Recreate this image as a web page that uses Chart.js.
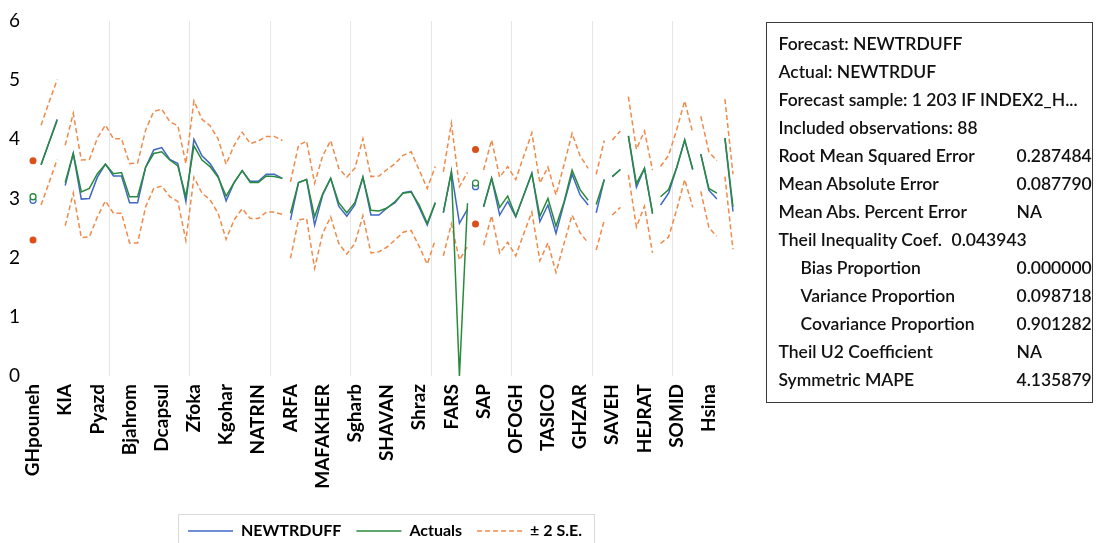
<!DOCTYPE html>
<html>
<head>
<meta charset="utf-8">
<script src="https://cdn.jsdelivr.net/npm/chart.js@4.4.1/dist/chart.umd.min.js"></script>
<style>
  html, body { margin: 0; padding: 0; background: #fff; width: 1097px; height: 543px; overflow: hidden; }
  #wrap { position: absolute; left: 0; top: 0; width: 770px; height: 549px; }
  #stats {
    position: absolute; left: 766px; top: 22px; width: 325px; height: 379px;
    border: 1.5px solid #3a3a3a; font-family: Lato, "Open Sans", sans-serif;
    font-size: 17.5px; font-weight: 600; color: #111;
  }
  #stats .row { position: absolute; white-space: nowrap; line-height: 20px; }
</style>
</head>
<body>
<div id="wrap"><canvas id="c" width="770" height="549"></canvas></div>
<div id="stats"></div>
<script>
// Company names shown on the axis (one every fourth observation)
const companies = ['GHpouneh','KIA','Pyazd','Bjahrom','Dcapsul','Zfoka','Kgohar','NATRIN','ARFA','MAFAKHER',
  'Sgharb','SHAVAN','Shraz','FARS','SAP','OFOGH','TASICO','GHZAR','SAVEH','HEJRAT','SOMID','Hsina'];
const companyObs = [0,4,8,12,16,20,24,28,32,36,40,44,48,52,56,60,64,68,72,76,80,84];

// Forecast NEWTRDUFF
const forecast = [2.97,3.57,3.95,4.34,3.22,3.76,2.99,3.00,3.36,3.58,3.38,3.38,2.93,2.93,3.53,3.82,
  3.86,3.66,3.59,2.95,4.00,3.72,3.59,3.38,2.96,3.27,3.47,3.29,3.29,3.41,3.41,3.34,
  2.64,3.27,3.32,2.55,3.06,3.34,2.87,2.70,2.89,3.36,2.72,2.72,2.84,2.93,3.10,3.12,
  2.85,2.55,2.93,2.76,3.45,2.58,2.82,3.20,2.86,3.34,2.72,2.95,2.69,3.06,3.43,2.61,
  2.89,2.41,2.92,3.41,3.06,2.89,2.76,3.32,3.37,3.49,4.06,3.19,3.51,2.76,2.89,3.09,
  3.52,3.99,3.49,3.75,3.14,2.99,4.02,2.78];

// Actual NEWTRDUF
const actual = [3.03,3.57,3.95,4.32,3.27,3.76,3.11,3.17,3.42,3.58,3.42,3.44,3.03,3.03,3.53,3.76,
  3.79,3.65,3.55,3.03,3.89,3.65,3.54,3.36,3.04,3.27,3.47,3.27,3.27,3.38,3.37,3.34,
  2.75,3.27,3.32,2.69,3.08,3.34,2.93,2.76,2.93,3.36,2.80,2.79,2.84,2.95,3.09,3.11,
  2.89,2.58,2.93,2.76,3.45,0.00,2.92,3.26,2.86,3.34,2.85,3.04,2.70,3.06,3.42,2.70,
  3.00,2.53,2.94,3.48,3.15,2.97,2.90,3.32,3.37,3.49,4.06,3.25,3.51,2.74,3.03,3.15,
  3.52,3.99,3.49,3.75,3.17,3.09,4.02,2.86];

// Forecast + 2 S.E.
const upperBand = [3.64,4.24,4.63,5.01,3.90,4.44,3.65,3.66,4.02,4.24,4.01,4.01,3.59,3.60,4.16,4.47,
  4.51,4.30,4.23,3.59,4.65,4.34,4.23,4.01,3.58,3.90,4.12,3.93,3.97,4.05,4.05,3.98,
  3.28,3.90,3.97,3.26,3.72,3.98,3.51,3.36,3.51,4.01,3.37,3.38,3.49,3.59,3.73,3.79,
  3.48,3.17,3.54,3.45,4.27,3.20,3.44,3.83,3.48,3.99,3.36,3.54,3.32,3.72,4.11,3.26,
  3.53,3.06,3.57,4.10,3.72,3.51,3.41,3.98,3.99,4.14,4.72,3.83,4.14,3.48,3.54,3.73,
  4.16,4.65,4.11,4.39,3.79,3.64,4.68,3.41];

// Forecast - 2 S.E.
const lowerBand = [2.30,2.89,3.27,3.66,2.54,3.09,2.34,2.35,2.69,2.96,2.75,2.75,2.25,2.25,2.86,3.17,
  3.21,3.03,2.95,2.29,3.36,3.09,2.98,2.75,2.31,2.64,2.83,2.66,2.66,2.77,2.77,2.73,
  1.99,2.64,2.66,1.82,2.41,2.69,2.24,2.06,2.24,2.71,2.08,2.10,2.18,2.30,2.43,2.46,
  2.19,1.89,2.30,2.03,2.57,1.96,2.19,2.57,2.21,2.71,2.08,2.26,2.03,2.41,2.77,1.95,
  2.25,1.75,2.24,2.72,2.42,2.25,2.13,2.63,2.72,2.85,3.40,2.52,2.87,2.08,2.24,2.35,
  2.81,3.32,2.85,3.12,2.51,2.36,3.37,2.14];

// Observations where the IF-filtered sample jumps, so the line restarts there
const sampleBreaks = [1,4,32,51,55,56,70,72,74,78,83,86];

// Vertical guide lines and value axis ticks
const gridObs = [9.5,19.5,29.5,39.5,49.5,59.5,69.5,79.5];
const yTicks = [0,1,2,3,4,5,6];

// Forecast evaluation statistics
const statLabels = ['Forecast: NEWTRDUFF','Actual: NEWTRDUF','Forecast sample: 1 203 IF INDEX2_H...',
  'Included observations: 88','Root Mean Squared Error','Mean Absolute Error','Mean Abs. Percent Error',
  'Theil Inequality Coef.','Bias Proportion','Variance Proportion','Covariance Proportion',
  'Theil U2 Coefficient','Symmetric MAPE'];
const statValues = ['','','','','0.287484','0.087790','NA','0.043943','0.000000','0.098718','0.901282','NA','4.135879'];
const indentedRows = [8,9,10];
const inlineValueRows = [7];

// ---- statistics panel ----
const stats = document.getElementById('stats');
statLabels.forEach((name, k) => {
  const top = 10.5 + 28 * k;
  const row = document.createElement('div');
  row.className = 'row';
  row.style.top = top + 'px';
  row.style.left = (indentedRows.includes(k) ? 33.5 : 11.5) + 'px';
  row.textContent = name;
  stats.appendChild(row);
  if (statValues[k]) {
    const v = document.createElement('div');
    v.className = 'row';
    v.style.top = top + 'px';
    v.style.left = (inlineValueRows.includes(k) ? 184.5 : 249.5) + 'px';
    v.textContent = statValues[k];
    stats.appendChild(v);
  }
});

// ---- chart ----
const BLUE = '#3f68c4', GREEN = '#2a8a3c', ORANGE = '#ef8a4a', DOT = '#d9501a';
const n = forecast.length;
const joined = i => i > 0 && !sampleBreaks.includes(i);           // obs i connects to obs i-1
const lone = i => !joined(i) && (i === n - 1 || !joined(i + 1));   // single obs between breaks
const pts = arr => arr.map((y, x) => ({ x, y }));

function series(label, arr, color, extra) {
  return Object.assign({
    label, data: pts(arr), borderColor: color, borderWidth: 1.5, fill: false, tension: 0,
    pointRadius: c => lone(c.dataIndex) ? 3 : 0, pointHoverRadius: 0,
    pointBorderWidth: 1.3, pointBackgroundColor: '#fff', pointBorderColor: color,
    segment: { borderColor: c => joined(c.p1DataIndex) ? color : 'rgba(0,0,0,0)' },
    xAxisID: 'x', yAxisID: 'y'
  }, extra);
}

const bandExtra = {
  borderColor: ORANGE, borderDash: [5, 3], order: 3,
  pointRadius: c => lone(c.dataIndex) ? 3.5 : 0,
  pointBackgroundColor: DOT, pointBorderColor: DOT, pointBorderWidth: 0
};

const legendFrame = {
  id: 'legendFrame',
  afterDraw(chart) {
    const boxes = chart.legend.legendHitBoxes;
    if (!boxes || !boxes.length) return;
    const l = Math.min(...boxes.map(b => b.left)) - 10;
    const r = Math.max(...boxes.map(b => b.left + b.width)) + 12;
    const cy = boxes[0].top + boxes[0].height / 2;
    const ctx = chart.ctx;
    ctx.save();
    ctx.strokeStyle = '#d9d9d9';
    ctx.lineWidth = 1;
    ctx.setLineDash([]);
    ctx.strokeRect(Math.round(l) + 0.5, Math.round(cy - 17) + 0.5, Math.round(r - l), 40);
    ctx.restore();
  }
};

Chart.defaults.font.family = "Lato, 'Open Sans', sans-serif";
Chart.defaults.color = '#000';

new Chart(document.getElementById('c'), {
  type: 'line',
  data: {
    datasets: [
      series('NEWTRDUFF', forecast, BLUE, { order: 2 }),
      series('Actuals', actual, GREEN, { order: 1 }),
      series('± 2 S.E.', upperBand, ORANGE, bandExtra),
      series('lower', lowerBand, ORANGE, bandExtra)
    ]
  },
  options: {
    responsive: false,
    animation: false,
    events: [],
    layout: { padding: { top: 21, left: 0, right: 0, bottom: 0 } },
    plugins: {
      tooltip: { enabled: false },
      legend: {
        position: 'bottom',
        labels: {
          usePointStyle: true, pointStyleWidth: 45, padding: 15,
          font: { size: 16, weight: 'bold' }, color: '#000',
          generateLabels: () => [
            { text: 'NEWTRDUFF', strokeStyle: BLUE, fillStyle: BLUE, lineWidth: 1.5, lineDash: [], pointStyle: 'line', hidden: false, datasetIndex: 0 },
            { text: 'Actuals', strokeStyle: GREEN, fillStyle: GREEN, lineWidth: 1.5, lineDash: [], pointStyle: 'line', hidden: false, datasetIndex: 1 },
            { text: '± 2 S.E.', strokeStyle: ORANGE, fillStyle: ORANGE, lineWidth: 1.5, lineDash: [5, 3], pointStyle: 'line', hidden: false, datasetIndex: 2 }
          ]
        }
      }
    },
    scales: {
      x: {
        type: 'linear', position: 'bottom', min: -0.5, max: 87.5, bounds: 'data',
        grid: { display: false, drawTicks: false }, border: { display: false },
        afterBuildTicks: a => { a.ticks = companyObs.map(v => ({ value: v })); },
        ticks: {
          autoSkip: false, maxRotation: 90, minRotation: 90, padding: 8,
          font: { size: 19, weight: 'bold' }, color: '#000',
          callback: v => companies[companyObs.indexOf(v)]
        },
        afterFit: s => { s.height = 132; }
      },
      xg: {
        type: 'linear', position: 'bottom', min: -0.5, max: 87.5, bounds: 'data',
        afterBuildTicks: a => { a.ticks = gridObs.map(v => ({ value: v })); },
        ticks: { display: false },
        grid: { color: '#e6e6e6', lineWidth: 1, drawTicks: false },
        border: { display: false },
        afterFit: s => { s.height = 0; }
      },
      y: {
        type: 'linear', position: 'left', min: 0, max: 6,
        afterBuildTicks: a => { a.ticks = yTicks.map(v => ({ value: v })); },
        grid: { display: false, drawTicks: false }, border: { display: false },
        ticks: { padding: 9, color: '#000', font: { size: 19 } },
        afterFit: s => { s.width = 29; }
      },
      yr: {
        type: 'linear', position: 'right', min: 0, max: 1,
        grid: { display: false, drawTicks: false }, border: { display: false },
        ticks: { display: false },
        afterFit: s => { s.width = 33; }
      }
    }
  },
  plugins: [legendFrame]
});
</script>
</body>
</html>
